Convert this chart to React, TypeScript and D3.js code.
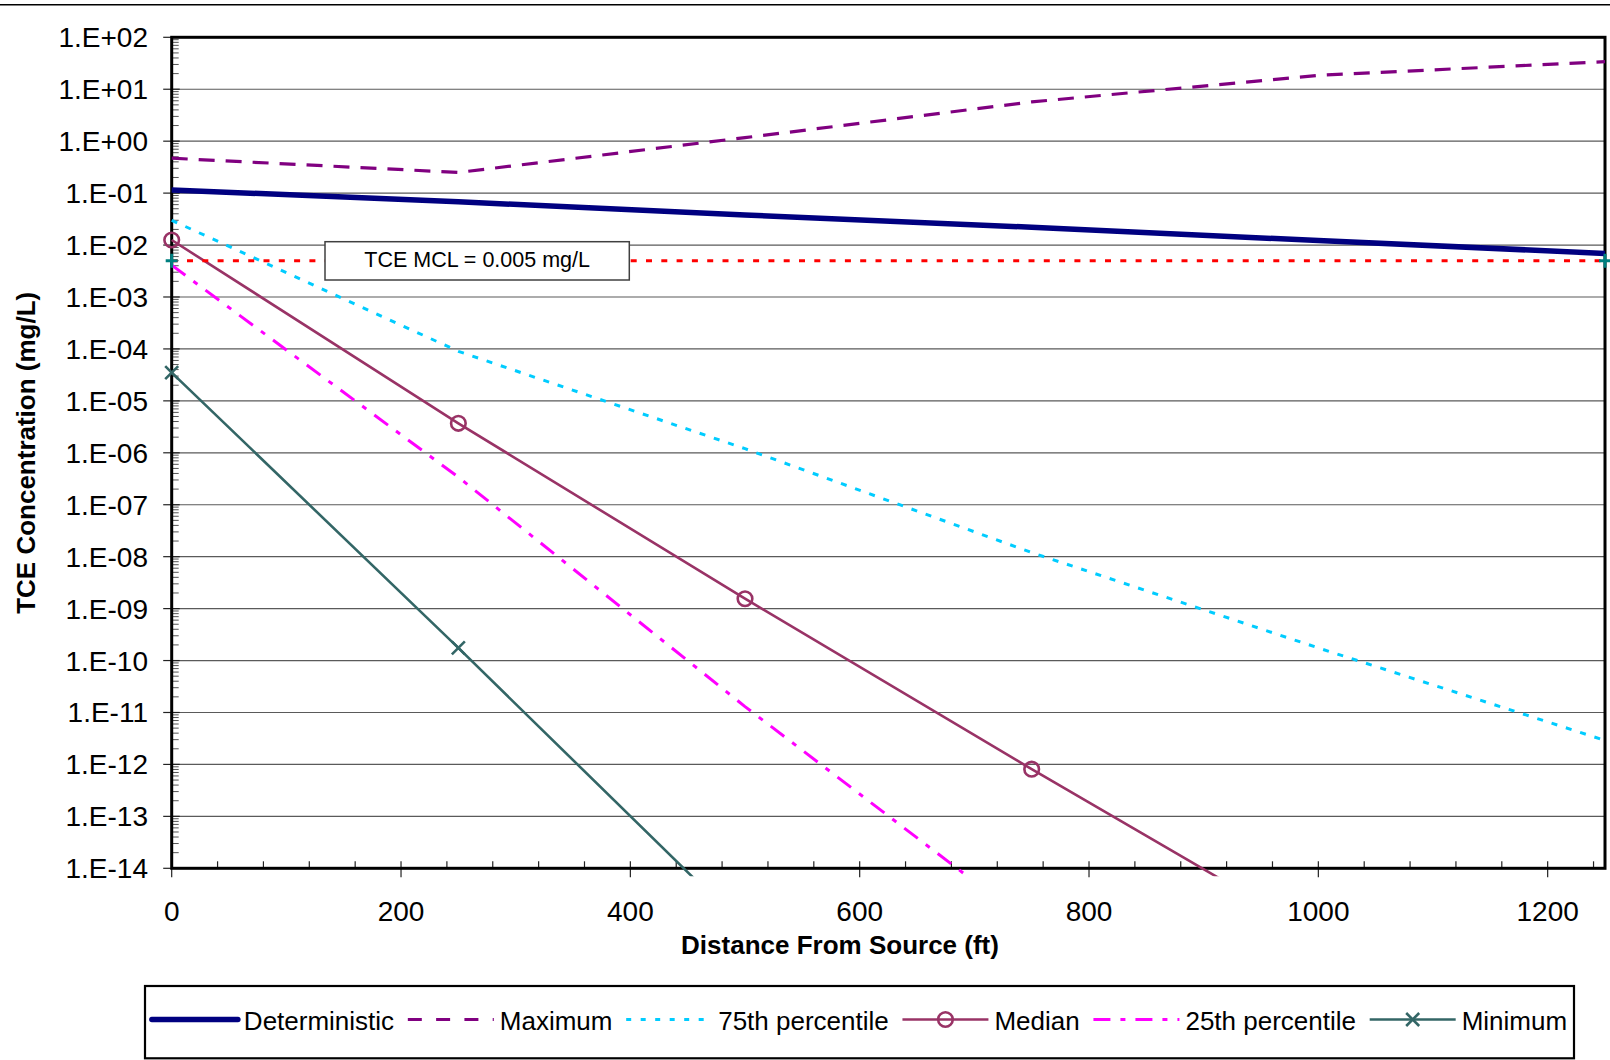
import React from "react";
import * as d3 from "d3";

// ---------- DATA ----------
const DISTANCE = [0, 250, 500, 750, 1000, 1250];
const DETERMINISTIC = [0.115, 0.068, 0.038, 0.022, 0.0122, 0.0069];
const MAXIMUM = [0.47, 0.25, 1.17, 5.7, 18.5, 34];
const P75 = [0.03, 9.0e-5, 1.2e-6, 1.2e-8, 1.75e-10, 2.9e-12];
const MEDIAN = [0.0125, 3.7e-6, 1.55e-9, 8.1e-13, 5e-16];
const P25 = [0.0041, 3.4e-7, 1.3e-11, 8e-16];
const MINIMUM = [3.5e-5, 1.75e-10, 7e-16];
const MCL_VALUE = 0.005;
const MCL_DISTANCE = [0, 1250];
const MCL_LABEL = "TCE MCL = 0.005 mg/L";

const X_TICKS = [0, 200, 400, 600, 800, 1000, 1200];
const X_MINOR_STEP = 40;
const Y_TICKS = [1e2, 1e1, 1e0, 1e-1, 1e-2, 1e-3, 1e-4, 1e-5, 1e-6, 1e-7, 1e-8, 1e-9, 1e-10, 1e-11, 1e-12, 1e-13, 1e-14];
const Y_TICK_LABELS = [
  "1.E+02", "1.E+01", "1.E+00", "1.E-01", "1.E-02", "1.E-03", "1.E-04", "1.E-05", "1.E-06",
  "1.E-07", "1.E-08", "1.E-09", "1.E-10", "1.E-11", "1.E-12", "1.E-13", "1.E-14",
];
const X_TITLE = "Distance From Source (ft)";
const Y_TITLE = "TCE Concentration (mg/L)";

type Series = {
  name: string;
  values: number[];
  color: string;
  width: number;
  dash?: string;
  legendDash?: string;
  marker?: "circle" | "x";
};

const SERIES: Series[] = [
  { name: "Deterministic", values: DETERMINISTIC, color: "#000080", width: 5.5 },
  { name: "Maximum", values: MAXIMUM, color: "#800080", width: 3.2, dash: "16,11", legendDash: "14,14.3" },
  { name: "75th percentile", values: P75, color: "#00CCFF", width: 3, dash: "6,9", legendDash: "5,9.5" },
  { name: "Median", values: MEDIAN, color: "#993366", width: 2.6, marker: "circle" },
  { name: "25th percentile", values: P25, color: "#FF00FF", width: 3, dash: "17,10,5,10", legendDash: "17,10,5,10" },
  { name: "Minimum", values: MINIMUM, color: "#336666", width: 2.6, marker: "x" },
];

// ---------- LAYOUT ----------
const W = 1610;
const H = 1060;
const PL = 171.7;
const PR = 1605;
const PT = 37.3;
const PB = 868.3;
const FONT = "'Liberation Sans', Arial, Helvetica, sans-serif";

function measure(text: string, font: string): number {
  const ctx = document.createElement("canvas").getContext("2d");
  if (!ctx) return text.length * 13;
  ctx.font = font;
  return ctx.measureText(text).width;
}

function Marker({ kind, x, y, color }: { kind?: string; x: number; y: number; color: string }) {
  if (kind === "circle") {
    return <circle cx={x} cy={y} r={7.3} fill="none" stroke={color} strokeWidth={2.6} />;
  }
  if (kind === "x") {
    const s = 6.5;
    return (
      <path d={`M${x - s},${y - s}L${x + s},${y + s}M${x - s},${y + s}L${x + s},${y - s}`} stroke={color} strokeWidth={2.6} fill="none" />
    );
  }
  if (kind === "plus") {
    return (
      <path d={`M${x - 6},${y}L${x + 6},${y}M${x},${y - 7}L${x},${y + 7}`} stroke={color} strokeWidth={3} fill="none" />
    );
  }
  return null;
}

export default function App() {
  const x = d3.scaleLinear().domain([0, 1250]).range([PL, PR]);
  const y = d3.scaleLog().domain([1e-14, 1e2]).range([PB, PT]);

  const line = d3
    .line<[number, number]>()
    .x((d) => x(d[0]))
    .y((d) => y(d[1]));

  const minorX = d3.range(X_MINOR_STEP, 1250, X_MINOR_STEP).filter((v) => v % 200 !== 0);
  const minorY: number[] = [];
  for (let e = -14; e < 2; e++) {
    for (let k = 2; k <= 9; k++) minorY.push(k * Math.pow(10, e));
  }

  // legend layout
  const legendFont = `26px ${FONT}`;
  const sample = 86;
  const sampleGap = 6;
  const entryGap = 13.7;
  const widths = SERIES.map((s) => measure(s.name, legendFont));
  const total = widths.reduce((a, b) => a + b, 0) + SERIES.length * (sample + sampleGap) + (SERIES.length - 1) * entryGap;
  const legendBox = { x0: 145, x1: 1574, y0: 986, y1: 1058.3 };
  let cursor = (legendBox.x0 + legendBox.x1) / 2 - total / 2;
  const legendY = 1019.5;
  const legendItems = SERIES.map((s, i) => {
    const start = cursor;
    cursor += sample + sampleGap + widths[i] + entryGap;
    return { s, start };
  });

  const labelBox = { x0: 325, x1: 629.3, y0: 241.7, y1: 280 };

  return (
    <div style={{ position: "absolute", left: 0, top: 0 }}>
      <svg width={W} height={H} style={{ display: "block", background: "#fff" }} fontFamily={FONT}>
        <defs>
          <clipPath id="plotClip">
            <rect x={120} y={PT - 2} width={W - 120} height={PB - PT + 10} />
          </clipPath>
        </defs>
        <rect x={0} y={0} width={W} height={H} fill="#fff" />
        <line x1={0} x2={W} y1={4.7} y2={4.7} stroke="#000" strokeWidth={1.5} />

        {/* gridlines */}
        {Y_TICKS.slice(1, -1).map((v) => (
          <line key={"g" + v} x1={PL} x2={PR} y1={y(v)} y2={y(v)} stroke="#5a5a5a" strokeWidth={1.2} />
        ))}

        {/* minor ticks */}
        {minorY.map((v) => (
          <line key={"my" + v} x1={PL} x2={PL + 7} y1={y(v)} y2={y(v)} stroke="#555" strokeWidth={1} />
        ))}
        {minorX.map((v) => (
          <line key={"mx" + v} x1={x(v)} x2={x(v)} y1={PB} y2={PB - 7} stroke="#222" strokeWidth={1.2} />
        ))}
        {/* major ticks */}
        {Y_TICKS.map((v) => (
          <line key={"ty" + v} x1={PL - 8.5} x2={PL + 8} y1={y(v)} y2={y(v)} stroke="#222" strokeWidth={1.2} />
        ))}
        {X_TICKS.map((v) => (
          <line key={"tx" + v} x1={x(v)} x2={x(v)} y1={v === 0 ? PB : PB - 7} y2={PB + 9} stroke="#222" strokeWidth={1.2} />
        ))}

        {/* frame */}
        <rect x={PL} y={PT} width={PR - PL} height={PB - PT} fill="none" stroke="#000" strokeWidth={3} />

        {/* tick labels */}
        {Y_TICKS.map((v, i) => (
          <text key={"ly" + v} x={148} y={y(v) + 10} textAnchor="end" fontSize={28} fill="#000">
            {Y_TICK_LABELS[i]}
          </text>
        ))}
        {X_TICKS.map((v) => (
          <text key={"lx" + v} x={x(v)} y={920.5} textAnchor="middle" fontSize={28} fill="#000">
            {v}
          </text>
        ))}

        {/* axis titles */}
        <text x={840} y={954} textAnchor="middle" fontSize={26} fontWeight="bold" fill="#000">
          {X_TITLE}
        </text>
        <text
          transform={`translate(34.5,${(PT + PB) / 2}) rotate(-90)`}
          textAnchor="middle"
          fontSize={26}
          fontWeight="bold"
          fill="#000"
        >
          {Y_TITLE}
        </text>

        {/* series */}
        <g clipPath="url(#plotClip)">
          {SERIES.map((s) => {
            const pts = s.values.map((v, i) => [DISTANCE[i], v] as [number, number]);
            return (
              <g key={s.name}>
                <path
                  d={line(pts) || ""}
                  fill="none"
                  stroke={s.color}
                  strokeWidth={s.width}
                  strokeDasharray={s.dash}
                  strokeLinejoin="round"
                />
                {s.marker &&
                  pts.map((p, i) => <Marker key={i} kind={s.marker} x={x(p[0])} y={y(p[1])} color={s.color} />)}
              </g>
            );
          })}
          {/* MCL line */}
          <path
            d={line(MCL_DISTANCE.map((d) => [d, MCL_VALUE] as [number, number])) || ""}
            fill="none"
            stroke="#FF0000"
            strokeWidth={3}
            strokeDasharray="6,9.3"
          />
          {MCL_DISTANCE.map((d) => (
            <Marker key={"mcl" + d} kind="plus" x={x(d)} y={y(MCL_VALUE)} color="#008080" />
          ))}
        </g>

        {/* MCL label */}
        <rect
          x={labelBox.x0}
          y={labelBox.y0}
          width={labelBox.x1 - labelBox.x0}
          height={labelBox.y1 - labelBox.y0}
          fill="#fff"
          stroke="#404040"
          strokeWidth={1.5}
        />
        <text x={(labelBox.x0 + labelBox.x1) / 2} y={266.7} textAnchor="middle" fontSize={21.5} fill="#000">
          {MCL_LABEL}
        </text>

        {/* legend */}
        <rect
          x={legendBox.x0}
          y={legendBox.y0}
          width={legendBox.x1 - legendBox.x0}
          height={legendBox.y1 - legendBox.y0}
          fill="#fff"
          stroke="#000"
          strokeWidth={2.2}
        />
        {legendItems.map(({ s, start }) => (
          <g key={"leg" + s.name}>
            <line
              x1={start}
              x2={start + sample}
              y1={legendY}
              y2={legendY}
              stroke={s.color}
              strokeWidth={s.name === "Deterministic" ? 5.5 : s.width}
              strokeDasharray={s.legendDash}
              strokeLinecap={s.name === "Deterministic" ? "round" : "butt"}
            />
            {s.marker && <Marker kind={s.marker} x={start + sample / 2} y={legendY} color={s.color} />}
            <text x={start + sample + sampleGap} y={1029.5} fontSize={26} fill="#000">
              {s.name}
            </text>
          </g>
        ))}
      </svg>
    </div>
  );
}
